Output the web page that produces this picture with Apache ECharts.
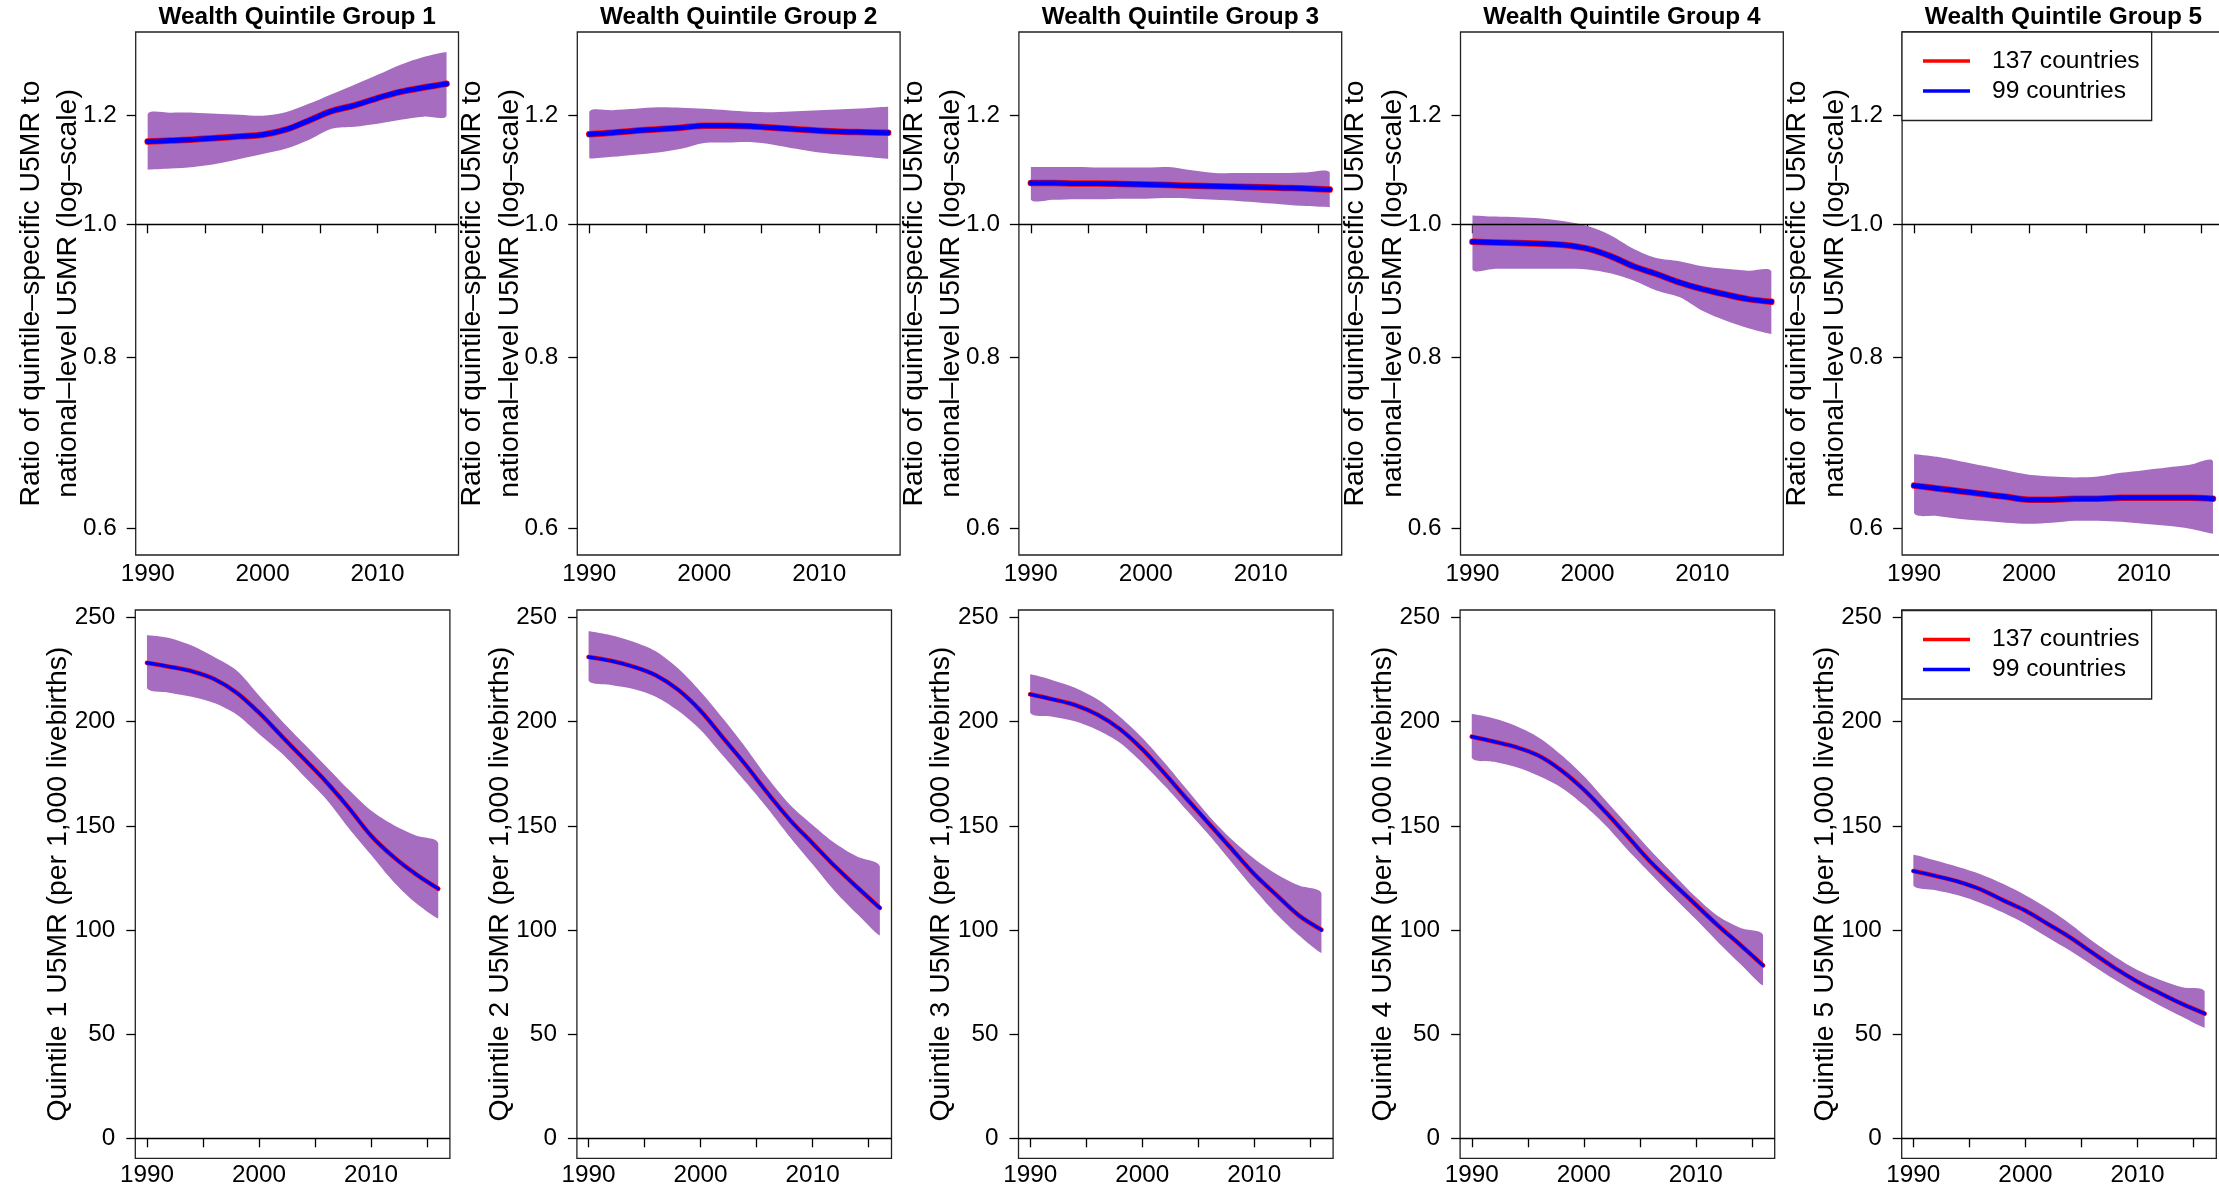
<!DOCTYPE html>
<html><head><meta charset="utf-8">
<script src="https://cdn.jsdelivr.net/npm/echarts@6/dist/echarts.min.js"></script>
<style>html,body{margin:0;padding:0;background:#fff}#c{width:2219px;height:1192px}</style>
</head><body><div id="c"></div>
<script>
// ---------- DATA ----------
const years = [1990,1992,1994,1996,1998,2000,2002,2004,2006,2008,2010,2012,2014,2016];
const xTickYears = [1990,1995,2000,2005,2010,2015];
const xLabelYears = [1990,2000,2010];
const ratioTicks = [0.6,0.8,1.0,1.2];
const u5mrTicks = [0,50,100,150,200,250];
const panelTitles = ['Wealth Quintile Group 1','Wealth Quintile Group 2','Wealth Quintile Group 3','Wealth Quintile Group 4','Wealth Quintile Group 5'];
const seriesNames = ['137 countries','99 countries'];

// ratio of quintile-specific U5MR to national-level U5MR
const q1RatioMid = [1.149,1.151,1.153,1.156,1.159,1.162,1.172,1.190,1.209,1.221,1.236,1.249,1.258,1.266];
const q1RatioLo  = [1.096,1.098,1.101,1.107,1.116,1.125,1.135,1.152,1.174,1.178,1.184,1.192,1.198,1.200];
const q1RatioHi  = [1.203,1.206,1.206,1.204,1.202,1.200,1.207,1.224,1.244,1.264,1.285,1.307,1.324,1.335];
const q2RatioMid = [1.163,1.166,1.170,1.173,1.176,1.180,1.180,1.179,1.176,1.173,1.170,1.168,1.167,1.166];
const q2RatioLo  = [1.117,1.120,1.124,1.128,1.135,1.146,1.147,1.148,1.143,1.135,1.128,1.124,1.120,1.116];
const q2RatioHi  = [1.208,1.211,1.214,1.217,1.216,1.214,1.211,1.208,1.207,1.209,1.211,1.213,1.215,1.218];
const q3RatioMid = [1.072,1.072,1.071,1.071,1.070,1.069,1.068,1.067,1.066,1.065,1.064,1.063,1.062,1.060];
const q3RatioLo  = [1.042,1.042,1.043,1.043,1.044,1.044,1.045,1.044,1.042,1.040,1.037,1.034,1.031,1.029];
const q3RatioHi  = [1.101,1.101,1.101,1.100,1.100,1.100,1.101,1.095,1.090,1.090,1.090,1.090,1.091,1.091];
const q4RatioMid = [0.971,0.970,0.969,0.968,0.966,0.960,0.948,0.932,0.920,0.907,0.897,0.889,0.882,0.878];
const q4RatioLo  = [0.927,0.928,0.928,0.928,0.928,0.927,0.921,0.910,0.895,0.885,0.865,0.851,0.840,0.832];
const q4RatioHi  = [1.015,1.013,1.012,1.010,1.005,0.997,0.982,0.960,0.945,0.940,0.932,0.928,0.925,0.924];
const q5RatioMid = [0.645,0.642,0.639,0.636,0.633,0.630,0.630,0.631,0.631,0.632,0.632,0.632,0.632,0.631];
const q5RatioLo  = [0.616,0.613,0.610,0.608,0.606,0.605,0.606,0.608,0.608,0.607,0.605,0.603,0.600,0.595];
const q5RatioHi  = [0.680,0.677,0.672,0.667,0.662,0.657,0.655,0.654,0.655,0.659,0.662,0.665,0.668,0.672];

// quintile U5MR (per 1,000 livebirths)
const q1U5mrMid = [228.2,226.4,224.2,220.5,213.9,204.3,193.2,182.2,171.1,158.7,145.3,135.1,126.8,119.8];
const q1U5mrLo  = [216.3,213.9,212.0,208.9,203.4,194.1,184.9,173.9,162.8,149.0,136.1,123.2,113.0,105.6];
const q1U5mrHi  = [241.5,240.2,236.5,231.0,224.6,212.6,200.6,189.5,178.5,167.4,157.3,150.4,145.3,141.6];
const q2U5mrMid = [231.0,229.2,226.4,222.3,215.3,205.2,192.3,179.4,165.6,152.7,141.6,130.5,120.4,110.6];
const q2U5mrLo  = [219.9,217.6,215.7,212.0,205.2,196.0,183.6,171.1,158.2,144.4,131.5,118.5,107.5,97.3];
const q2U5mrHi  = [243.4,241.5,238.4,233.8,225.5,214.4,201.5,187.7,172.9,160.0,150.4,141.6,135.1,130.5];
const q3U5mrMid = [213.1,210.7,208.0,203.4,196.5,186.8,175.1,162.8,150.8,138.8,126.8,116.7,106.9,100.1];
const q3U5mrLo  = [204.3,202.4,200.2,196.0,189.9,180.3,169.2,157.3,145.3,132.4,119.5,107.5,97.3,89.0];
const q3U5mrHi  = [222.7,219.9,216.3,210.7,202.4,192.3,180.3,167.4,154.5,143.4,134.2,126.8,121.3,117.6];
const q4U5mrMid = [192.8,190.4,187.7,183.6,176.6,167.4,156.3,144.4,132.4,122.2,112.1,102.0,92.7,83.0];
const q4U5mrLo  = [182.7,180.7,178.1,173.9,168.3,160.0,149.9,137.9,126.8,115.8,105.1,94.0,83.5,73.4];
const q4U5mrHi  = [203.7,201.5,197.8,192.3,184.0,173.9,161.9,149.9,137.9,126.8,115.8,106.6,101.0,97.7];
const q5U5mrMid = [128.3,125.9,123.2,119.5,114.3,109.3,102.9,96.4,89.0,81.7,75.2,69.7,64.5,59.9];
const q5U5mrLo  = [121.3,119.1,116.7,113.0,108.4,102.9,96.4,90.0,83.0,76.1,69.7,63.8,58.3,53.1];
const q5U5mrHi  = [136.1,133.3,130.2,126.8,122.2,116.7,110.3,102.9,94.6,87.2,80.8,76.1,72.5,70.6];

const ratioMid = [q1RatioMid,q2RatioMid,q3RatioMid,q4RatioMid,q5RatioMid];
const ratioLo  = [q1RatioLo,q2RatioLo,q3RatioLo,q4RatioLo,q5RatioLo];
const ratioHi  = [q1RatioHi,q2RatioHi,q3RatioHi,q4RatioHi,q5RatioHi];
const u5mrMid = [q1U5mrMid,q2U5mrMid,q3U5mrMid,q4U5mrMid,q5U5mrMid];
const u5mrLo  = [q1U5mrLo,q2U5mrLo,q3U5mrLo,q4U5mrLo,q5U5mrLo];
const u5mrHi  = [q1U5mrHi,q2U5mrHi,q3U5mrHi,q4U5mrHi,q5U5mrHi];

// ---------- CHART ----------
const FONT = '"Liberation Sans", Arial, Helvetica, sans-serif';
const BAND = '#A66CC0';
const BOX = '#222';
const colStep = 441.6;
const grids = [], xAxes = [], yAxes = [], series = [];
const ident = v => v;

function addPanel(g, isTop, p) {
  const left = isTop ? 135.7 + colStep * p : 135.3 + colStep * p;
  grids.push(isTop
    ? {left: left, top: 32, width: 322.8, height: 523, show: true, borderColor: BOX, borderWidth: 1.3, backgroundColor: 'transparent', containLabel: false, outerBoundsMode: 'none'}
    : {left: left, top: 610, width: 314.6, height: 548.3, show: true, borderColor: BOX, borderWidth: 1.3, backgroundColor: 'transparent', containLabel: false, outerBoundsMode: 'none'});
  xAxes.push({
    type: 'value', gridIndex: g, position: 'bottom', min: 1988.96, max: 2017.04,
    axisLine: {show: false},
    axisTick: {show: true, length: 9, customValues: xTickYears, lineStyle: {color: '#000', width: 1.3}},
    axisLabel: {show: true, customValues: xLabelYears, margin: isTop ? 7 : 5, fontSize: 24.3, color: '#000', fontFamily: FONT, formatter: v => String(v)},
    splitLine: {show: false}
  });
  const f = isTop ? Math.log : ident;
  yAxes.push({
    type: 'value', gridIndex: g, position: 'left',
    min: isTop ? -0.5549 : -9.6, max: isTop ? 0.3227 : 253.6,
    axisLine: {show: false},
    axisTick: {show: true, length: 9, customValues: (isTop ? ratioTicks : u5mrTicks).map(f), lineStyle: {color: '#000', width: 1.3}},
    axisLabel: {show: true, customValues: (isTop ? ratioTicks : u5mrTicks).map(f), margin: isTop ? 19 : 20, fontSize: 24.3, color: '#000', fontFamily: FONT,
      formatter: isTop ? (v => Math.exp(v).toFixed(1)) : (v => String(Math.round(v)))},
    splitLine: {show: false},
    name: isTop ? 'Ratio of quintile\u2013specific U5MR to\nnational\u2013level U5MR (log\u2013scale)' : 'Quintile ' + (p + 1) + ' U5MR (per 1,000 livebirths)',
    nameLocation: 'middle', nameRotate: 90, nameGap: isTop ? 48.6 : 58.2, nameMoveOverlap: false,
    nameTextStyle: {fontSize: 28.4, lineHeight: 37.6, fontFamily: FONT, color: '#000', align: 'center'}
  });
  const mid = isTop ? ratioMid[p] : u5mrMid[p];
  const lo = isTop ? ratioLo[p] : u5mrLo[p];
  const hi = isTop ? ratioHi[p] : u5mrHi[p];
  // uncertainty ribbon: one polygon through the axis scales
  series.push({
    type: 'custom', xAxisIndex: g, yAxisIndex: g, silent: true, z: 1, clip: true, animation: false,
    data: years.map((y, k) => [y, f(lo[k]), f(hi[k])]),
    encode: {x: 0, y: [1, 2]},
    renderItem: function (params, api) {
      if (params.dataIndex !== 0) return null;
      const pts = [];
      for (let k = 0; k < years.length; k++) pts.push(api.coord([years[k], f(hi[k])]));
      for (let k = years.length - 1; k >= 0; k--) pts.push(api.coord([years[k], f(lo[k])]));
      return {type: 'polygon', shape: {points: pts, smooth: 0.3, smoothConstraint: [pts[0], pts[0]]}, style: {fill: BAND, stroke: null}};
    }
  });
  const common = {type: 'line', xAxisIndex: g, yAxisIndex: g, symbol: 'none', animation: false};
  series.push(Object.assign({}, common, {
    name: seriesNames[0], color: '#FF0000',
    data: years.map((y, k) => [y, f(mid[k])]), smooth: 0.35,
    lineStyle: {color: '#FF0000', width: isTop ? 6.5 : 4.6, cap: 'round'}, z: 3
  }));
  series.push(Object.assign({}, common, {
    name: seriesNames[1], color: '#0000FF',
    data: years.map((y, k) => [y, f(mid[k])]), smooth: 0.35,
    lineStyle: {color: '#0000FF', width: isTop ? 5 : 3.2, cap: 'round'}, z: 4,
    markLine: {silent: true, symbol: 'none', label: {show: false}, animation: false,
      lineStyle: {color: '#000', width: 1.3, type: 'solid'}, data: [{yAxis: f(isTop ? 1 : 0)}]}
  }));
}

for (let p = 0; p < 5; p++) addPanel(p, true, p);
for (let p = 0; p < 5; p++) addPanel(p + 5, false, p);

// panel titles as top axis names
for (let p = 0; p < 5; p++) {
  xAxes.push({
    type: 'value', gridIndex: p, position: 'top', min: 1988.96, max: 2017.04,
    axisLine: {show: false}, axisTick: {show: false}, axisLabel: {show: false}, splitLine: {show: false},
    name: panelTitles[p], nameLocation: 'middle', nameGap: 2.7, nameMoveOverlap: false,
    nameTextStyle: {fontSize: 24.4, fontWeight: 'bold', fontFamily: FONT, color: '#000', lineHeight: 24}
  });
}

const legendBase = {
  data: seriesNames, orient: 'vertical', left: 1902, icon: 'rect', itemWidth: 47, itemHeight: 3.5,
  itemGap: 0, padding: [14, 12, 14.5, 21], borderColor: BOX, borderWidth: 1.3, backgroundColor: '#fff',
  borderRadius: 0, selectedMode: false, z: 10,
  textStyle: {fontSize: 24.6, fontFamily: FONT, color: '#000', lineHeight: 30, padding: [0, 0, 0, 17]}
};

const chart = echarts.init(document.getElementById('c'), null, {renderer: 'canvas'});
chart.setOption({
  animation: false,
  backgroundColor: '#fff',
  grid: grids,
  xAxis: xAxes,
  yAxis: yAxes,
  legend: [Object.assign({}, legendBase, {top: 32}), Object.assign({}, legendBase, {top: 610.5})],
  series: series
});
</script>
</body></html>
